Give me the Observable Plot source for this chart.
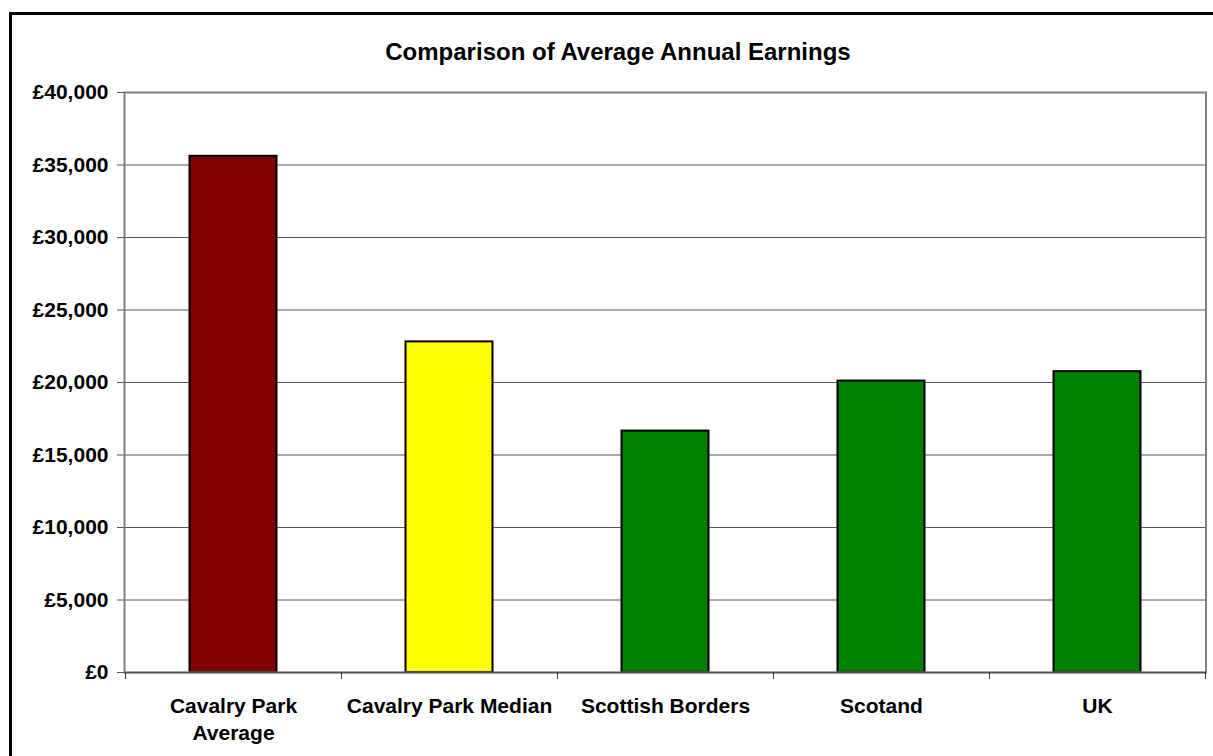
<!DOCTYPE html>
<html>
<head>
<meta charset="utf-8">
<script src="https://cdn.jsdelivr.net/npm/d3@7"></script>
<script src="https://cdn.jsdelivr.net/npm/@observablehq/plot@0.6"></script>
<style>
  html, body { margin: 0; padding: 0; background: #fff; overflow: hidden; }
  #wrap { position: relative; width: 1213px; height: 756px; overflow: hidden; font-family: "Liberation Sans", Arial, sans-serif; }
  #outer { position: absolute; left: 9px; top: 12px; width: 1300px; height: 900px; border: 3px solid #000; box-sizing: border-box; }
  #title { position: absolute; left: 0; top: 40px; width: 1236px; text-align: center; font-weight: bold; font-size: 24px; line-height: 24px; color: #000; }
  #chart { position: absolute; left: 0; top: 0; }
</style>
</head>
<body>
<div id="wrap">
  <div id="outer"></div>
  <div id="chart"></div>
  <div id="title">Comparison of Average Annual Earnings</div>
</div>
<script>
const categories = ["Cavalry Park Average", "Cavalry Park Median", "Scottish Borders", "Scotand", "UK"];
const tickLabels = ["Cavalry Park\nAverage", "Cavalry Park Median", "Scottish Borders", "Scotand", "UK"];
const earnings = [35600, 22800, 16650, 20100, 20750];
const barColors = ["#800000", "#FFFF00", "#008000", "#008000", "#008000"];
const yTicks = [0, 5000, 10000, 15000, 20000, 25000, 30000, 35000, 40000];

const data = categories.map((c, i) => ({category: c, value: earnings[i], color: barColors[i], label: tickLabels[i]}));
const labelOf = new Map(data.map(d => [d.category, d.label]));
const fmt = d => "£" + d3.format(",")(d);

// boundary ticks below the category axis
const boundaryTicks = (index, scales, values, dimensions) => {
  const sx = scales.x;
  const bw = typeof sx.bandwidth === "function" ? sx.bandwidth() : sx.bandwidth;
  const y0 = dimensions.height - dimensions.marginBottom;
  const g = d3.create("svg:g").attr("stroke", "#333").attr("stroke-width", 1);
  const xs = categories.map(c => sx(c));
  xs.push(sx(categories[categories.length - 1]) + bw);
  for (const x of xs) {
    g.append("line").attr("x1", Math.round(x) + 0.5).attr("x2", Math.round(x) + 0.5).attr("y1", y0).attr("y2", y0 + 7);
  }
  return g.node();
};

const chart = Plot.plot({
  width: 1213,
  height: 756,
  marginLeft: 124,
  marginRight: 7.5,
  marginTop: 92,
  marginBottom: 84,
  style: {fontFamily: "'Liberation Sans', Arial, sans-serif", fontWeight: "bold", fontSize: "21px", color: "#000", background: "transparent", overflow: "visible"},
  x: {domain: categories, padding: 0},
  y: {domain: [0, 40000]},
  marks: [
    Plot.gridY(yTicks, {stroke: "#555", strokeOpacity: 1, strokeWidth: 1}),
    Plot.barY(data, {x: "category", y: "value", fill: "color", stroke: "#000", strokeWidth: 2, insetLeft: 64.5, insetRight: 64.5}),
    Plot.frame({stroke: "#808080", strokeWidth: 2}),
    Plot.ruleY([0], {stroke: "#555", strokeWidth: 1.5}),
    Plot.axisY(yTicks, {tickSize: 7, tickPadding: 9, tickFormat: fmt, stroke: "#555", fontSize: 21, fontWeight: "bold", label: null}),
    Plot.axisX({tickSize: 0, tickPadding: 21, tickFormat: d => labelOf.get(d), fontSize: 21, fontWeight: "bold", lineHeight: 1.3, label: null}),
    boundaryTicks
  ]
});
document.getElementById("chart").appendChild(chart);
</script>
</body>
</html>
